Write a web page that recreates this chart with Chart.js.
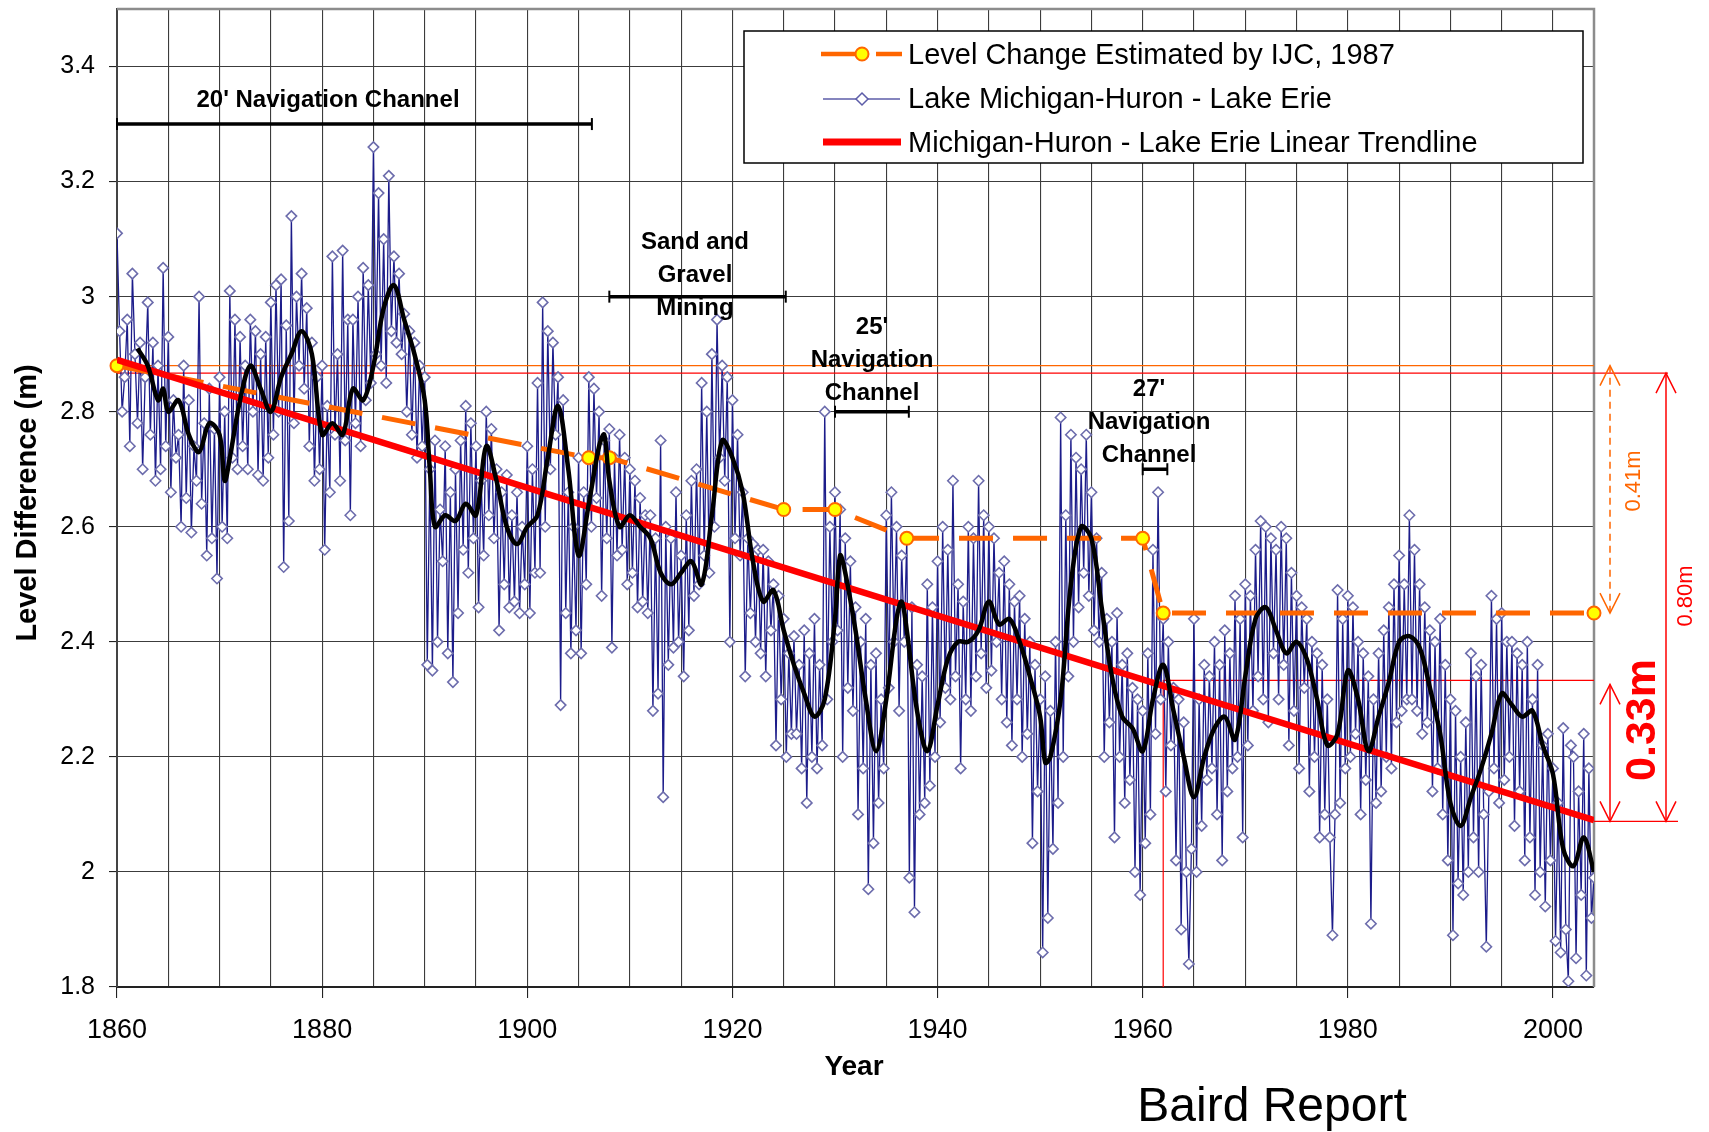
<!DOCTYPE html>
<html>
<head>
<meta charset="utf-8">
<script src="https://cdn.jsdelivr.net/npm/chart.js@4.4.1/dist/chart.umd.min.js"></script>
<style>
  html, body { margin: 0; padding: 0; background: #fff; }
</style>
</head>
<body>
<canvas id="levels" width="1709" height="1132"></canvas>
<script>
// IJC 1987 estimate (step series)
const ijcYears  = [1860, 1906, 1908, 1925, 1930, 1937, 1960, 1962, 2004];
const ijcLevels = [2.88, 2.72, 2.72, 2.63, 2.63, 2.58, 2.58, 2.45, 2.45];

// linear trendline end points
const trendYears  = [1860, 2004];
const trendLevels = [2.89, 2.09];

const blueStart = 1860;
const bluePerYear = 4;
const blueLevels = [
  3.11,2.94,2.80,2.86, 2.96,2.74,3.04,2.90, 2.78,2.92,2.70,2.86, 2.99,2.76,2.92,2.68, 2.88,2.70,3.05,2.74,
  2.93,2.66,2.82,2.72, 2.76,2.60,2.88,2.65, 2.82,2.59,2.74,2.68, 3.00,2.64,2.78,2.55, 2.84,2.58,2.77,2.51,
  2.86,2.60,2.80,2.58, 3.01,2.72,2.96,2.70, 2.93,2.74,2.88,2.70, 2.96,2.80,2.94,2.69, 2.90,2.68,2.93,2.72,
  2.99,2.76,3.02,2.80, 3.03,2.53,2.95,2.61, 3.14,2.78,3.00,2.88, 3.04,2.84,2.98,2.74, 2.92,2.68,2.86,2.70,
  2.88,2.56,2.81,2.66, 3.07,2.76,2.90,2.68, 3.08,2.75,2.96,2.62, 2.96,2.78,3.00,2.74, 3.05,2.82,3.02,2.85,
  3.26,2.90,3.18,2.88, 3.10,2.85,3.21,2.94, 3.07,2.92,3.04,2.90, 2.97,2.80,2.94,2.76, 2.92,2.72,2.88,2.74,
  2.86,2.36,2.70,2.35, 2.75,2.40,2.63,2.54, 2.74,2.38,2.66,2.33, 2.70,2.45,2.75,2.56, 2.81,2.52,2.78,2.58,
  2.74,2.46,2.68,2.55, 2.80,2.62,2.77,2.58, 2.70,2.42,2.66,2.50, 2.69,2.46,2.62,2.47, 2.66,2.45,2.60,2.50,
  2.74,2.45,2.70,2.52, 2.85,2.52,2.99,2.60, 2.94,2.70,2.92,2.76, 2.86,2.29,2.82,2.45, 2.66,2.38,2.60,2.42,
  2.72,2.38,2.66,2.50, 2.86,2.60,2.84,2.65, 2.80,2.48,2.75,2.58, 2.77,2.39,2.72,2.55, 2.76,2.56,2.72,2.50,
  2.70,2.52,2.68,2.46, 2.65,2.47,2.62,2.45, 2.62,2.28,2.58,2.31, 2.75,2.13,2.60,2.36, 2.58,2.39,2.66,2.40,
  2.55,2.34,2.62,2.42, 2.68,2.48,2.70,2.50, 2.85,2.55,2.80,2.52, 2.90,2.60,2.96,2.72, 2.88,2.68,2.86,2.40,
  2.82,2.58,2.76,2.55, 2.66,2.34,2.58,2.45, 2.57,2.40,2.56,2.38, 2.56,2.34,2.54,2.42, 2.50,2.22,2.48,2.30,
  2.44,2.20,2.38,2.24, 2.41,2.24,2.36,2.18, 2.42,2.12,2.38,2.20, 2.44,2.18,2.36,2.22, 2.80,2.30,2.60,2.40,
  2.66,2.42,2.63,2.20, 2.58,2.32,2.54,2.28, 2.46,2.10,2.40,2.18, 2.44,1.97,2.36,2.05, 2.38,2.12,2.30,2.18,
  2.62,2.32,2.66,2.40, 2.60,2.28,2.55,2.40, 2.58,1.99,2.46,1.93, 2.36,2.10,2.34,2.12, 2.50,2.15,2.46,2.20,
  2.54,2.26,2.60,2.32, 2.56,2.30,2.68,2.34, 2.50,2.18,2.47,2.30, 2.60,2.28,2.58,2.34, 2.68,2.38,2.62,2.32,
  2.60,2.35,2.58,2.40, 2.52,2.30,2.54,2.26, 2.50,2.22,2.47,2.30, 2.48,2.20,2.44,2.24, 2.40,2.05,2.36,2.14,
  2.30,1.86,2.34,1.92, 2.28,2.04,2.40,2.12, 2.79,2.20,2.62,2.34, 2.76,2.40,2.72,2.46, 2.70,2.52,2.76,2.48,
  2.66,2.42,2.58,2.40, 2.52,2.20,2.44,2.26, 2.40,2.06,2.45,2.20, 2.36,2.12,2.38,2.16, 2.32,2.00,2.30,1.96,
  2.28,2.05,2.38,2.10, 2.56,2.24,2.66,2.30, 2.44,2.14,2.40,2.22, 2.32,2.02,2.30,1.90, 2.26,2.00,1.84,2.04,
  2.44,2.00,2.30,2.08, 2.36,2.16,2.34,2.18, 2.40,2.10,2.36,2.02, 2.42,2.14,2.38,2.18, 2.48,2.20,2.44,2.06,
  2.50,2.22,2.48,2.28, 2.56,2.34,2.61,2.30, 2.60,2.26,2.58,2.38, 2.56,2.30,2.60,2.36, 2.58,2.22,2.52,2.28,
  2.48,2.18,2.46,2.32, 2.44,2.14,2.40,2.20, 2.38,2.06,2.36,2.10, 2.30,2.06,1.89,2.10, 2.49,2.12,2.44,2.18,
  2.48,2.20,2.46,2.24, 2.40,2.10,2.38,2.16, 2.34,1.91,2.30,2.12, 2.38,2.14,2.42,2.20, 2.46,2.18,2.50,2.26,
  2.55,2.28,2.50,2.30, 2.62,2.30,2.56,2.28, 2.50,2.24,2.46,2.26, 2.42,2.14,2.40,2.18, 2.44,2.10,2.36,2.02,
  2.30,1.89,2.28,1.98, 2.20,1.96,2.26,2.00, 2.38,2.06,2.34,2.00, 2.36,2.10,1.87,2.14, 2.48,2.18,2.44,2.12,
  2.45,2.16,2.40,2.20, 2.40,2.08,2.38,2.14, 2.36,2.02,2.40,2.06, 2.30,1.96,2.36,2.00, 2.22,1.94,2.24,2.02,
  2.18,1.88,2.12,1.86, 2.25,1.90,1.81,2.22, 2.20,1.85,2.14,1.96, 2.24,1.82,2.18,1.92, 1.99
];

// smoothed (black) curve
const avgYears = [
  1862,1863,1864,1864.5,1865,1866,1867,1868,1869,1870,1870.5,1871,1872,1873,1874,1875,1876,1877,1878,1879,
  1880,1881,1882,1883,1884,1885,1886,1887,1888,1889,1890,1890.5,1891,1892,1893,1894,1895,1896,1897,1898,
  1899,1900,1901,1902,1903,1904,1905,1906,1907,1907.5,1908,1909,1910,1911,1912,1913,1914,1915,1916,1917,
  1918,1919,1920,1921,1922,1923,1924,1925,1926,1927,1928,1929,1930,1930.5,1931,1932,1933,1934,1935,1936,
  1936.5,1937,1938,1939,1940,1941,1942,1943,1944,1945,1946,1947,1948,1949,1950,1950.5,1951,1952,1953,1954,
  1955,1956,1957,1958,1959,1960,1961,1962,1963,1964,1965,1966,1967,1968,1969,1970,1971,1972,1973,1974,
  1975,1976,1977,1978,1979,1980,1981,1982,1983,1984,1985,1986,1987,1988,1989,1990,1991,1992,1993,1994,
  1995,1996,1997,1998,1999,2000,2001,2002,2003,2004
];
const avgLevels = [
  2.91,2.88,2.82,2.84,2.80,2.82,2.76,2.73,2.78,2.76,2.68,2.72,2.82,2.88,2.84,2.80,2.86,2.90,2.94,2.90,
  2.76,2.78,2.76,2.84,2.82,2.88,2.98,3.02,2.96,2.90,2.82,2.70,2.60,2.62,2.61,2.64,2.62,2.74,2.68,2.60,
  2.57,2.60,2.62,2.72,2.81,2.70,2.55,2.64,2.74,2.76,2.68,2.60,2.62,2.60,2.58,2.52,2.50,2.52,2.54,2.50,
  2.62,2.75,2.72,2.66,2.54,2.47,2.49,2.42,2.36,2.31,2.27,2.30,2.44,2.55,2.52,2.42,2.30,2.21,2.30,2.44,
  2.47,2.42,2.28,2.21,2.29,2.37,2.40,2.40,2.42,2.47,2.43,2.44,2.40,2.34,2.27,2.19,2.20,2.30,2.50,2.60,
  2.58,2.46,2.34,2.27,2.25,2.21,2.30,2.36,2.28,2.20,2.13,2.20,2.25,2.27,2.23,2.34,2.44,2.46,2.42,2.38,
  2.40,2.37,2.30,2.22,2.24,2.35,2.30,2.21,2.27,2.33,2.40,2.41,2.39,2.32,2.24,2.12,2.08,2.13,2.18,2.24,
  2.31,2.29,2.27,2.28,2.22,2.17,2.04,2.01,2.06,2.00
];

// dredging / mining periods
const channelLines = [["20' Navigation Channel"], ["Sand and", "Gravel", "Mining"], ["25'", "Navigation", "Channel"], ["27'", "Navigation", "Channel"]];
const channelStart = [1860, 1908, 1930, 1960];
const channelEnd   = [1906.3, 1925.2, 1937.2, 1962.4];
const channelLevel = [3.3, 3.0, 2.8, 2.7];

// dimension arrows on the right
const spanLabels = ['0.41m', '0.80m', '0.33m'];
const spanFrom   = [2.88, 2.867, 2.326];
const spanTo     = [2.45, 2.088, 2.088];

const FONT = "'Liberation Sans', Arial, sans-serif";

const bluePoints = blueLevels.map((v, i) => ({ x: blueStart + i / bluePerYear, y: v }));
const avgPoints = avgYears.map((t, i) => ({ x: t, y: avgLevels[i] }));
const ijcPoints = ijcYears.map((t, i) => ({ x: t, y: ijcLevels[i] }));
const trendPoints = trendYears.map((t, i) => ({ x: t, y: trendLevels[i] }));

function seg(ctx, x1, y1, x2, y2) {
  ctx.beginPath(); ctx.moveTo(x1, y1); ctx.lineTo(x2, y2); ctx.stroke();
}
function head(ctx, x, y, dir) {
  // dir -1: tip points up, +1: tip points down
  ctx.beginPath();
  ctx.moveTo(x - 10, y - dir * 20); ctx.lineTo(x, y); ctx.lineTo(x + 10, y - dir * 20);
  ctx.stroke();
}
function vtext(ctx, txt, x, y, font, color) {
  ctx.save();
  ctx.translate(x, y); ctx.rotate(-Math.PI / 2);
  ctx.font = font; ctx.fillStyle = color;
  ctx.textAlign = 'center'; ctx.textBaseline = 'middle';
  ctx.fillText(txt, 0, 0);
  ctx.restore();
}

const decor = {
  id: 'decor',
  beforeDatasetsDraw(chart) {
    const ctx = chart.ctx, a = chart.chartArea;
    const X = v => chart.scales.x.getPixelForValue(v);
    const Y = v => chart.scales.y.getPixelForValue(v);
    ctx.save();
    ctx.strokeStyle = '#8c8c8c'; ctx.lineWidth = 2.5;
    ctx.beginPath(); ctx.moveTo(a.left, a.top); ctx.lineTo(a.right, a.top); ctx.lineTo(a.right, a.bottom); ctx.stroke();
    ctx.lineWidth = 1.2;
    ctx.strokeStyle = '#ff6600';
    seg(ctx, a.left, Y(spanFrom[0]), a.right, Y(spanFrom[0]));
    ctx.strokeStyle = '#ff0000';
    seg(ctx, a.left, Y(spanFrom[1]), 1668, Y(spanFrom[1]));
    seg(ctx, X(ijcYears[7]), Y(2.333), a.right, Y(2.333));
    seg(ctx, X(ijcYears[7]), Y(2.333), X(ijcYears[7]), a.bottom);
    seg(ctx, a.right, Y(spanTo[1]), 1678, Y(spanTo[1]));
    ctx.restore();
  },
  afterDraw(chart) {
    const ctx = chart.ctx;
    const X = v => chart.scales.x.getPixelForValue(v);
    const Y = v => chart.scales.y.getPixelForValue(v);
    ctx.save();

    // period bars
    ctx.strokeStyle = '#000';
    for (let i = 0; i < channelStart.length; i++) {
      const y = Y(channelLevel[i]);
      ctx.lineWidth = 3.5;
      seg(ctx, X(channelStart[i]), y, X(channelEnd[i]), y);
      ctx.lineWidth = 2;
      seg(ctx, X(channelStart[i]), y - 6, X(channelStart[i]), y + 6);
      seg(ctx, X(channelEnd[i]), y - 6, X(channelEnd[i]), y + 6);
    }
    const textX = [328, 695, 872, 1149];
    const textY = [100, 242, 327, 389];
    ctx.fillStyle = '#000';
    ctx.font = 'bold 24px ' + FONT;
    ctx.textAlign = 'center'; ctx.textBaseline = 'middle';
    channelLines.forEach((lines, i) => {
      lines.forEach((ln, j) => ctx.fillText(ln, textX[i], textY[i] + j * 33));
    });

    // legend
    ctx.fillStyle = '#fff';
    ctx.fillRect(744, 31, 839, 132);
    ctx.strokeStyle = '#000'; ctx.lineWidth = 1.5;
    ctx.strokeRect(744, 31, 839, 132);
    ctx.strokeStyle = '#ff6600'; ctx.lineWidth = 4.5;
    seg(ctx, 821, 54, 868, 54);
    seg(ctx, 876, 54, 902, 54);
    ctx.beginPath(); ctx.arc(862, 54, 6.5, 0, Math.PI * 2);
    ctx.fillStyle = '#ffff00'; ctx.fill(); ctx.lineWidth = 2; ctx.stroke();
    ctx.strokeStyle = '#5c5ca8'; ctx.lineWidth = 1.5;
    seg(ctx, 823, 99, 900, 99);
    ctx.beginPath();
    ctx.moveTo(862, 93); ctx.lineTo(868, 99); ctx.lineTo(862, 105); ctx.lineTo(856, 99); ctx.closePath();
    ctx.fillStyle = '#fff'; ctx.fill(); ctx.stroke();
    ctx.strokeStyle = '#ff0000'; ctx.lineWidth = 7;
    seg(ctx, 823, 142, 901, 142);
    ctx.fillStyle = '#000';
    ctx.font = '29px ' + FONT;
    ctx.textAlign = 'left';
    ctx.fillText('Level Change Estimated by IJC, 1987', 908, 56);
    ctx.fillText('Lake Michigan-Huron - Lake Erie', 908, 100);
    ctx.fillText('Michigan-Huron - Lake Erie Linear Trendline', 908, 144);

    // dimension arrows
    ctx.lineWidth = 1.5;
    ctx.strokeStyle = '#ff6600';
    ctx.setLineDash([7, 5]);
    seg(ctx, 1610, Y(spanFrom[0]), 1610, Y(spanTo[0]));
    ctx.setLineDash([]);
    head(ctx, 1610, Y(spanFrom[0]), -1);
    head(ctx, 1610, Y(spanTo[0]), 1);
    ctx.strokeStyle = '#ff0000';
    seg(ctx, 1666, Y(spanFrom[1]), 1666, Y(spanTo[1]));
    head(ctx, 1666, Y(spanFrom[1]), -1);
    head(ctx, 1666, Y(spanTo[1]), 1);
    seg(ctx, 1610, Y(spanFrom[2]), 1610, Y(spanTo[2]));
    head(ctx, 1610, Y(spanFrom[2]), -1);
    head(ctx, 1610, Y(spanTo[2]), 1);
    vtext(ctx, spanLabels[0], 1634, 481, '22px ' + FONT, '#ff6600');
    vtext(ctx, spanLabels[1], 1686, 596, '22px ' + FONT, '#ff0000');
    vtext(ctx, spanLabels[2], 1643, 720, 'bold 43px ' + FONT, '#ff0000');

    // titles
    vtext(ctx, 'Level Difference (m)', 28, 503, 'bold 29px ' + FONT, '#000');
    ctx.fillStyle = '#000';
    ctx.textAlign = 'center';
    ctx.font = 'bold 28px ' + FONT;
    ctx.fillText('Year', 854, 1067);
    ctx.font = '48px ' + FONT;
    ctx.fillText('Baird Report', 1272, 1108);
    ctx.restore();
  }
};

new Chart(document.getElementById('levels'), {
  type: 'line',
  data: {
    datasets: [
      {
        label: 'Lake Michigan-Huron - Lake Erie',
        data: bluePoints,
        borderColor: '#1c1c8a',
        borderWidth: 1.3,
        pointStyle: 'rectRot',
        pointRadius: 5.2,
        pointBackgroundColor: '#ffffff',
        pointBorderColor: '#6c6cac',
        pointBorderWidth: 1.6,
        tension: 0,
        order: 4
      },
      {
        label: 'Level Change Estimated by IJC, 1987',
        data: ijcPoints,
        borderColor: '#ff6600',
        borderWidth: 5,
        borderDash: [34, 20],
        pointRadius: 6.5,
        pointBackgroundColor: '#ffff00',
        pointBorderColor: '#ff6600',
        pointBorderWidth: 2,
        clip: false,
        order: 3
      },
      {
        label: 'Michigan-Huron - Lake Erie Linear Trendline',
        data: trendPoints,
        borderColor: '#ff0000',
        borderWidth: 6.5,
        pointRadius: 0,
        order: 2
      },
      {
        label: 'moving average',
        data: avgPoints,
        borderColor: '#000000',
        borderWidth: 4.5,
        pointRadius: 0,
        tension: 0.35,
        order: 1
      }
    ]
  },
  options: {
    responsive: false,
    animation: false,
    devicePixelRatio: 1,
    layout: { padding: { top: 9, right: 115, left: 0, bottom: 0 } },
    plugins: { legend: { display: false }, tooltip: { enabled: false } },
    scales: {
      x: {
        type: 'linear',
        min: 1860, max: 2004,
        afterFit: s => { s.height = 145; s.paddingLeft = 0; s.paddingRight = 0; },
        ticks: {
          stepSize: 5,
          includeBounds: false,
          autoSkip: false,
          maxRotation: 0,
          padding: 16,
          color: '#000',
          font: { family: FONT, size: 27 },
          callback: v => (v % 20 === 0 ? String(v) : '')
        },
        grid: {
          color: '#3c3c3c',
          lineWidth: 1.1,
          tickLength: 11,
          tickColor: c => (c.tick && c.tick.value % 20 === 0 ? '#222' : 'rgba(0,0,0,0)')
        },
        border: { color: '#222', width: 2 }
      },
      y: {
        min: 1.8, max: 3.5,
        afterFit: s => { s.width = 117; s.paddingTop = 0; s.paddingBottom = 0; },
        ticks: {
          stepSize: 0.2,
          includeBounds: false,
          padding: 14,
          color: '#000',
          font: { family: FONT, size: 25 },
          callback: v => String(parseFloat(v.toFixed(1)))
        },
        grid: { color: '#3c3c3c', lineWidth: 1.1, tickLength: 8, tickColor: '#222' },
        border: { color: '#444', width: 2 }
      }
    }
  },
  plugins: [decor]
});
</script>
</body>
</html>
